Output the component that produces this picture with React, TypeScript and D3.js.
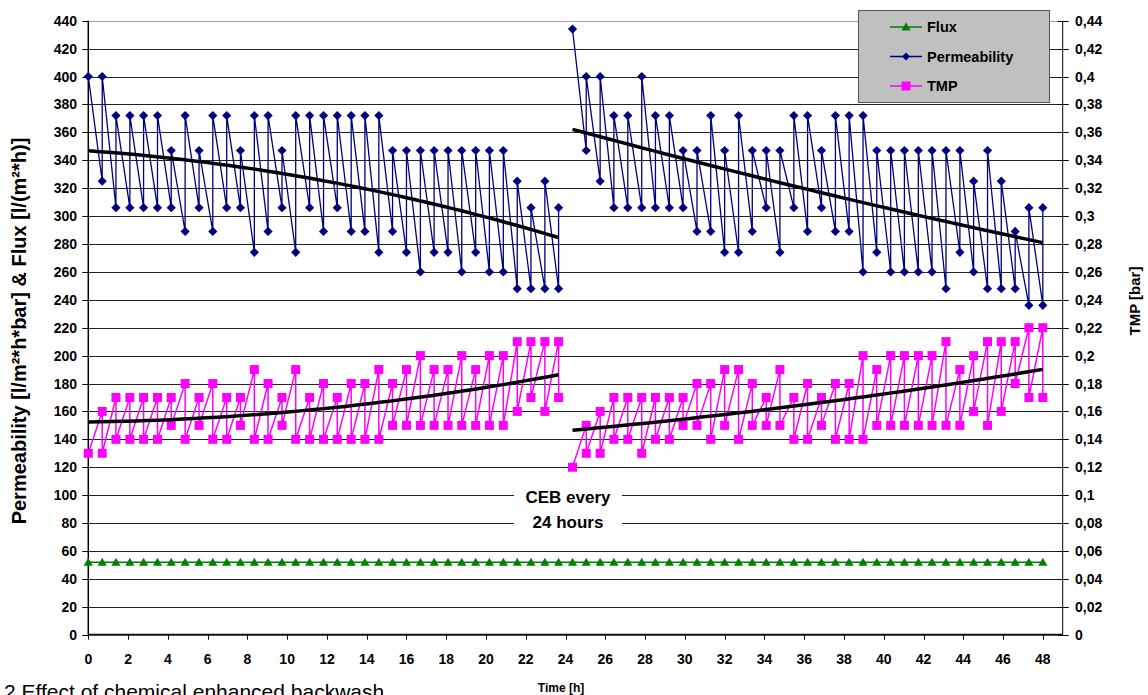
import * as d3 from 'd3';

// sampling times of the filtration cycles [h]
const times = [
  0, 0.7, 1.39, 2.09, 2.78, 3.48, 4.17, 4.87, 5.57, 6.26, 6.96, 7.65, 8.35, 9.04, 9.74, 10.43, 11.13, 11.83,
  12.52, 13.22, 13.91, 14.61, 15.3, 16.0, 16.7, 17.39, 18.09, 18.78, 19.48, 20.17, 20.87, 21.57, 22.26, 22.96,
  23.65, 24.35, 25.04, 25.74, 26.43, 27.13, 27.83, 28.52, 29.22, 29.91, 30.61, 31.3, 32.0, 32.7, 33.39, 34.09,
  34.78, 35.48, 36.17, 36.87, 37.57, 38.26, 38.96, 39.65, 40.35, 41.04, 41.74, 42.43, 43.13, 43.83, 44.52,
  45.22, 45.91, 46.61, 47.3, 48.0,
];

// index of the first sample after the chemical enhanced backwash
const cebIndex = 35;

const flux = [
  52, 52, 52, 52, 52, 52, 52, 52, 52, 52, 52, 52, 52, 52, 52, 52, 52, 52, 52, 52, 52, 52, 52, 52, 52, 52, 52, 52,
  52, 52, 52, 52, 52, 52, 52, 52, 52, 52, 52, 52, 52, 52, 52, 52, 52, 52, 52, 52, 52, 52, 52, 52, 52, 52, 52, 52,
  52, 52, 52, 52, 52, 52, 52, 52, 52, 52, 52, 52, 52, 52,
];

// permeability before / after each backwash [l/m2*h*bar]
const permBefore = [
  400, 325, 306, 306, 306, 306, 306, 289, 306, 289, 306, 306, 274, 289, 306, 274, 306, 289, 306, 289, 289, 274,
  289, 274, 260, 274, 274, 260, 274, 260, 260, 248, 248, 248, 248,
  434, 347, 325, 306, 306, 306, 306, 306, 306, 289, 289, 274, 274, 289, 306, 274, 306, 289, 306, 289, 289, 260,
  274, 260, 260, 260, 260, 248, 274, 260, 248, 248, 248, 236, 236,
];
const permAfter = [
  null, 400, 372, 372, 372, 372, 347, 372, 347, 372, 372, 347, 372, 372, 347, 372, 372, 372, 372, 372, 372, 372,
  347, 347, 347, 347, 347, 347, 347, 347, 347, 325, 306, 325, 306,
  null, 400, 400, 372, 372, 400, 372, 372, 347, 347, 372, 347, 372, 347, 347, 347, 372, 372, 347, 372, 372, 372,
  347, 347, 347, 347, 347, 347, 347, 325, 347, 325, 289, 306, 306,
];

// TMP before / after each backwash [bar]
const tmpBefore = [
  0.13, 0.16, 0.17, 0.17, 0.17, 0.17, 0.17, 0.18, 0.17, 0.18, 0.17, 0.17, 0.19, 0.18, 0.17, 0.19, 0.17, 0.18,
  0.17, 0.18, 0.18, 0.19, 0.18, 0.19, 0.2, 0.19, 0.19, 0.2, 0.19, 0.2, 0.2, 0.21, 0.21, 0.21, 0.21,
  0.12, 0.15, 0.16, 0.17, 0.17, 0.17, 0.17, 0.17, 0.17, 0.18, 0.18, 0.19, 0.19, 0.18, 0.17, 0.19, 0.17, 0.18,
  0.17, 0.18, 0.18, 0.2, 0.19, 0.2, 0.2, 0.2, 0.2, 0.21, 0.19, 0.2, 0.21, 0.21, 0.21, 0.22, 0.22,
];
const tmpAfter = [
  null, 0.13, 0.14, 0.14, 0.14, 0.14, 0.15, 0.14, 0.15, 0.14, 0.14, 0.15, 0.14, 0.14, 0.15, 0.14, 0.14, 0.14,
  0.14, 0.14, 0.14, 0.14, 0.15, 0.15, 0.15, 0.15, 0.15, 0.15, 0.15, 0.15, 0.15, 0.16, 0.17, 0.16, 0.17,
  null, 0.13, 0.13, 0.14, 0.14, 0.13, 0.14, 0.14, 0.15, 0.15, 0.14, 0.15, 0.14, 0.15, 0.15, 0.15, 0.14, 0.14,
  0.15, 0.14, 0.14, 0.14, 0.15, 0.15, 0.15, 0.15, 0.15, 0.15, 0.15, 0.16, 0.15, 0.16, 0.18, 0.17, 0.17,
];

const legendItems = ['Flux', 'Permeability', 'TMP'];

type Pt = { t: number; v: number } | null;

function zigzag(before: number[], after: (number | null)[]): Pt[] {
  const out: Pt[] = [];
  times.forEach((t, i) => {
    if (i === cebIndex) out.push(null);
    out.push({ t, v: before[i] });
    if (after[i] != null) out.push({ t, v: after[i] as number });
  });
  return out;
}

// least squares 2nd order polynomial (like a spreadsheet trendline)
function polyFit(pts: { t: number; v: number }[]) {
  let s0 = 0, s1 = 0, s2 = 0, s3 = 0, s4 = 0, b0 = 0, b1 = 0, b2 = 0;
  pts.forEach(({ t, v }) => {
    s0 += 1; s1 += t; s2 += t * t; s3 += t * t * t; s4 += t * t * t * t;
    b0 += v; b1 += v * t; b2 += v * t * t;
  });
  const det = (m: number[][]) =>
    m[0][0] * (m[1][1] * m[2][2] - m[1][2] * m[2][1]) -
    m[0][1] * (m[1][0] * m[2][2] - m[1][2] * m[2][0]) +
    m[0][2] * (m[1][0] * m[2][1] - m[1][1] * m[2][0]);
  const A = [[s0, s1, s2], [s1, s2, s3], [s2, s3, s4]];
  const D = det(A);
  const col = (k: number) => A.map((r, j) => r.map((c, m) => (m === k ? [b0, b1, b2][j] : c)));
  const a = det(col(0)) / D, b = det(col(1)) / D, c = det(col(2)) / D;
  return (t: number) => a + b * t + c * t * t;
}

export default function App() {
  const W = 1148;
  const H = 695;
  const left = 88.3, right = 1062.7, top = 20.7, bottom = 634.7;

  const x = d3.scaleLinear().domain([0, 49]).range([left, right]);
  const y = d3.scaleLinear().domain([0, 440]).range([bottom, top]);
  const yR = d3.scaleLinear().domain([0, 0.44]).range([bottom, top]);

  const perm = zigzag(permBefore, permAfter);
  const tmp = zigzag(tmpBefore, tmpAfter);

  const permLine = d3.line<Pt>().defined((d) => d != null).x((d) => x(d!.t)).y((d) => y(d!.v));
  const tmpLine = d3.line<Pt>().defined((d) => d != null).x((d) => x(d!.t)).y((d) => yR(d!.v));
  const fluxLine = d3.line<number>().x((_, i) => x(times[i])).y((d) => y(d));

  // trend lines for each segment (before / after CEB)
  const segments = [
    [0, cebIndex],
    [cebIndex, times.length],
  ];
  const trends: { path: string }[] = [];
  segments.forEach(([s, e]) => {
    const segPerm = perm.filter((p) => p && times.indexOf(p.t) >= s && times.indexOf(p.t) < e) as { t: number; v: number }[];
    const segTmp = tmp.filter((p) => p && times.indexOf(p.t) >= s && times.indexOf(p.t) < e) as { t: number; v: number }[];
    const t0 = times[s], t1 = times[e - 1];
    const ts = d3.range(0, 41).map((k) => t0 + ((t1 - t0) * k) / 40);
    const fp = polyFit(segPerm);
    const ft = polyFit(segTmp);
    trends.push({ path: d3.line<number>().x((t) => x(t)).y((t) => y(fp(t)))(ts) || '' });
    trends.push({ path: d3.line<number>().x((t) => x(t)).y((t) => yR(ft(t)))(ts) || '' });
  });

  const font = 'Liberation Sans, Arial, sans-serif';
  const diamond = (cx: number, cy: number, r = 4.6) => `M${cx},${cy - r}L${cx + r},${cy}L${cx},${cy + r}L${cx - r},${cy}Z`;
  const triangle = (cx: number, cy: number) => `M${cx},${cy - 4.5}L${cx + 4.6},${cy + 3.5}L${cx - 4.6},${cy + 3.5}Z`;

  const leftTicks = y.ticks(22);
  const rightTicks = yR.ticks(22);
  const xTicks = d3.range(0, 49, 2);
  const fmtR = (v: number) => String(Math.round(v * 100) / 100).replace('.', ',');

  const colors = { Flux: '#008000', Permeability: '#000080', TMP: '#ff00ff' } as Record<string, string>;

  return (
    <svg width={W} height={H} style={{ position: 'absolute', left: 0, top: 0 }} fontFamily={font}>
      <rect width={W} height={H} fill='#fff' />
      {/* grid */}
      {leftTicks.filter((v) => v > 0 && v < 440).map((v) => (
        <line key={v} x1={left} x2={right} y1={Math.round(y(v)) + 0.5} y2={Math.round(y(v)) + 0.5} stroke='#222' strokeWidth={1} />
      ))}
      <line x1={left} x2={right} y1={Math.round(top) + 0.5} y2={Math.round(top) + 0.5} stroke='#a0a0a0' strokeWidth={1} />

      {/* CEB label box */}
      <rect x={514} y={485} width={108} height={50} fill='#fff' />
      <text x={568} y={503} textAnchor='middle' fontSize={17} fontWeight='bold'>CEB every</text>
      <text x={568} y={528} textAnchor='middle' fontSize={17} fontWeight='bold'>24 hours</text>

      {/* axes */}
      <line x1={left} x2={left} y1={top} y2={bottom} stroke='#000' strokeWidth={1.5} />
      <line x1={right} x2={right} y1={top} y2={bottom} stroke='#000' strokeWidth={1} />
      <line x1={left} x2={right} y1={bottom} y2={bottom} stroke='#111' strokeWidth={2} />
      {leftTicks.map((v) => (
        <g key={v}>
          <line x1={left - 6} x2={left} y1={Math.round(y(v)) + 0.5} y2={Math.round(y(v)) + 0.5} stroke='#000' />
          <text x={77} y={y(v) + 5} textAnchor='end' fontSize={14} fontWeight='bold'>{v}</text>
        </g>
      ))}
      {rightTicks.map((v) => (
        <g key={v}>
          <line x1={right - 5} x2={right + 6} y1={Math.round(yR(v)) + 0.5} y2={Math.round(yR(v)) + 0.5} stroke='#000' />
          <text x={1075} y={yR(v) + 5} fontSize={14} fontWeight='bold'>{fmtR(v)}</text>
        </g>
      ))}
      {xTicks.map((v) => (
        <g key={v}>
          <line x1={Math.round(x(v)) + 0.5} x2={Math.round(x(v)) + 0.5} y1={bottom} y2={bottom + 5} stroke='#000' />
          <text x={x(v)} y={664} textAnchor='middle' fontSize={14} fontWeight='bold'>{v}</text>
        </g>
      ))}

      {/* axis titles */}
      <text transform='translate(26,331) rotate(-90)' textAnchor='middle' fontSize={20} fontWeight='bold'>
        Permeability [l/m²*h*bar] &amp; Flux [l/(m²*h)]
      </text>
      <text transform='translate(1140,301) rotate(-90)' textAnchor='middle' fontSize={15} fontWeight='bold'>
        TMP [bar]
      </text>
      <text x={561} y={692} textAnchor='middle' fontSize={12} fontWeight='bold'>Time [h]</text>
      <text x={4} y={699} fontSize={21}>2 Effect of chemical enhanced backwash</text>

      {/* flux */}
      <path d={fluxLine(flux) || ''} fill='none' stroke='#008000' strokeWidth={1.5} />
      {flux.map((v, i) => (
        <path key={i} d={triangle(x(times[i]), y(v))} fill='#008000' />
      ))}

      {/* permeability */}
      <path d={permLine(perm) || ''} fill='none' stroke='#000080' strokeWidth={1.3} />
      {perm.map((p, i) => p && <path key={i} d={diamond(x(p.t), y(p.v))} fill='#000080' />)}

      {/* TMP */}
      <path d={tmpLine(tmp) || ''} fill='none' stroke='#ff00ff' strokeWidth={1.5} />
      {tmp.map((p, i) => p && <rect key={i} x={x(p.t) - 4.5} y={yR(p.v) - 4.5} width={9} height={9} fill='#ff00ff' />)}

      {/* trend lines */}
      {trends.map((tr, i) => (
        <path key={i} d={tr.path} fill='none' stroke='#000' strokeWidth={3.5} />
      ))}

      {/* legend */}
      <rect x={858.5} y={10.5} width={191} height={92} fill='#c0c0c0' stroke='#555' strokeWidth={1} />
      {legendItems.map((name, i) => {
        const cy = 27 + i * 29.5;
        const c = colors[name];
        return (
          <g key={name}>
            <line x1={890} x2={922} y1={cy} y2={cy} stroke={c} strokeWidth={1.5} />
            {name === 'Flux' && <path d={triangle(906, cy)} fill={c} />}
            {name === 'Permeability' && <path d={diamond(906, cy, 4)} fill={c} />}
            {name === 'TMP' && <rect x={901.5} y={cy - 4.5} width={9} height={9} fill={c} />}
            <text x={927} y={cy + 5} fontSize={14.5} fontWeight='bold'>{name}</text>
          </g>
        );
      })}
    </svg>
  );
}
